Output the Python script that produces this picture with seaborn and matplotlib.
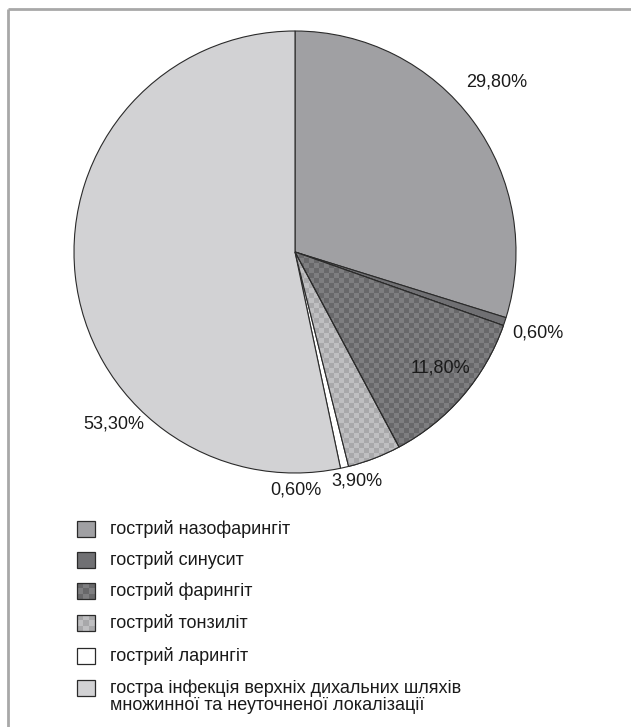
import numpy as np
import matplotlib
matplotlib.use("Agg")
import matplotlib.pyplot as plt
from matplotlib.patches import Rectangle, Wedge
import seaborn as sns

categories = ["гострий назофарингіт", "гострий синусит", "гострий фарингіт",
              "гострий тонзиліт", "гострий ларингіт",
              "гостра інфекція верхніх дихальних шляхів\nмножинної та неуточненої локалізації"]
values = [29.8, 0.6, 11.8, 3.9, 0.6, 53.3]
labels = ["29,80%", "0,60%", "11,80%", "3,90%", "0,60%", "53,30%"]

sns.set_style("white")
plt.rcParams['font.family'] = ['Liberation Sans', 'DejaVu Sans']

colors = ["#a0a0a3", "#707073", "#747476", "#b5b5b7", "#ffffff", "#d2d2d4"]
checker = {2: ("#68686a", "#7e7e80"), 3: ("#a8a8aa", "#bfbfc1")}

W, H = 631, 727
fig = plt.figure(figsize=(W / 100, H / 100), dpi=100)
ax = fig.add_axes([0, 0, 1, 1])


def Y(y):
    return H - y


cx, cy, R = 295, Y(252), 221
wedges, _ = ax.pie(values, colors=colors, startangle=90, counterclock=False,
                   center=(cx, cy), radius=R,
                   wedgeprops=dict(edgecolor="#2a2a2a", linewidth=0.8))


def checker_img(c1, c2, nx, ny):
    a = np.array(matplotlib.colors.to_rgb(c1))
    b = np.array(matplotlib.colors.to_rgb(c2))
    ii, jj = np.meshgrid(np.arange(ny), np.arange(nx), indexing="ij")
    mask = ((ii + jj) % 2 == 0)[..., None]
    return np.where(mask, a, b)


cell = 5
for idx, (c1, c2) in checker.items():
    n = int(2 * R / cell) + 2
    img = checker_img(c1, c2, n, n)
    im = ax.imshow(img, extent=(cx - R, cx - R + n * cell, cy - R, cy - R + n * cell),
                   origin="lower", interpolation="nearest",
                   zorder=wedges[idx].get_zorder() + 0.1)
    im.set_clip_path(wedges[idx])
    w = wedges[idx]
    outline = Wedge((cx, cy), R, w.theta1, w.theta2, facecolor="none",
                    edgecolor="#2a2a2a", linewidth=0.8, zorder=im.get_zorder() + 0.1)
    ax.add_patch(outline)

label_pos = [(497, 82), (538, 333), (440, 368), (357, 481), (296, 490), (114, 424)]
for (x, y), t in zip(label_pos, labels):
    ax.text(x, Y(y), t, ha="center", va="center", fontsize=13, color="#1a1a1a")

# frame lines (top and left)
ax.plot([8, W], [Y(9), Y(9)], color="#a8a8a8", lw=2, solid_capstyle="butt")
ax.plot([8, 8], [Y(9), 0], color="#a8a8a8", lw=2, solid_capstyle="butt")

# legend
rows = [529, 560, 591, 623, 656, 688]
sq_w, sq_h = 18, 16
for i, (yc, cat) in enumerate(zip(rows, categories)):
    x0, y0 = 77, Y(yc) - sq_h / 2
    if i in checker:
        c1, c2 = checker[i]
        img = checker_img(c1, c2, 3, 3)
        ax.imshow(img, extent=(x0, x0 + sq_w, y0, y0 + sq_h), origin="lower",
                  interpolation="nearest", zorder=3)
        ax.add_patch(Rectangle((x0, y0), sq_w, sq_h, facecolor="none",
                               edgecolor="#2a2a2a", lw=0.9, zorder=4))
    else:
        ax.add_patch(Rectangle((x0, y0), sq_w, sq_h, facecolor=colors[i],
                               edgecolor="#2a2a2a", lw=0.9, zorder=4))
    for k, line in enumerate(cat.split("\n")):
        ax.text(110, Y(yc + 18 * k), line, ha="left", va="center", fontsize=13,
                color="#1a1a1a")

ax.set_xlim(0, W)
ax.set_ylim(0, H)
ax.set_aspect("auto")
ax.axis("off")

fig.savefig("out.png", dpi=100, facecolor="white")
